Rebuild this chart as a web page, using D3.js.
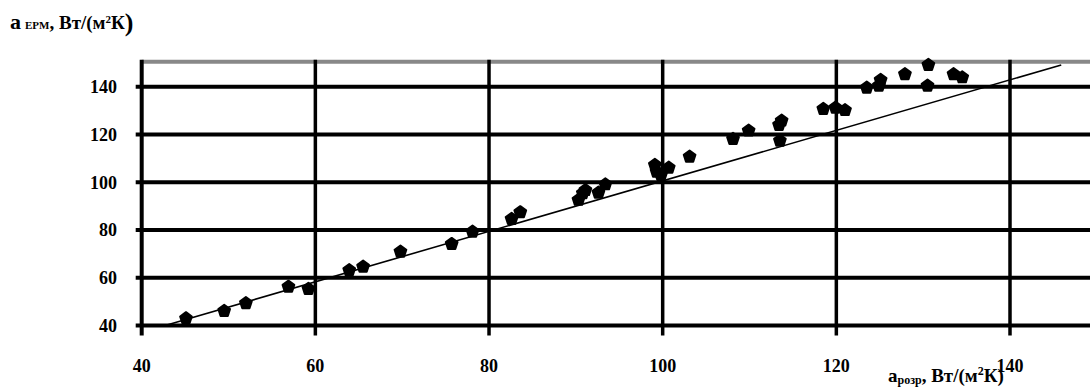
<!DOCTYPE html>
<html>
<head>
<meta charset="utf-8">
<script src="https://cdn.jsdelivr.net/npm/d3@7"></script>
<style>
  html, body { margin: 0; padding: 0; background: #fff; overflow: hidden; }
  svg { display: block; }
</style>
</head>
<body>
<svg id="chart" width="1090" height="387" font-family="'Liberation Serif', 'Times New Roman', serif" font-weight="bold"></svg>
<script>
// Measured vs. calculated heat transfer coefficient
const measuredX = [45.1, 49.5, 52.0, 56.9, 59.2, 63.9, 65.5, 69.8, 75.7, 78.1,
                   82.6, 83.6, 90.3, 90.8, 91.1, 92.6, 93.4, 99.1, 99.3, 99.8,
                   100.7, 103.1, 108.1, 109.9, 113.4, 113.7, 113.5, 118.5, 119.9, 121.0,
                   123.5, 124.9, 125.1, 127.9, 130.6, 130.5, 133.5, 134.5];
const measuredY = [43.0, 46.1, 49.3, 56.2, 55.3, 63.2, 64.6, 70.9, 74.1, 79.3,
                   84.6, 87.4, 92.6, 95.4, 96.7, 95.6, 99.1, 107.2, 104.4, 103.0,
                   106.1, 110.7, 118.1, 121.6, 124.0, 125.8, 117.4, 130.7, 131.2, 130.2,
                   139.6, 140.4, 142.8, 145.2, 149.1, 140.4, 145.2, 143.9];

// Fitted line endpoints
const fitX = [42.9, 145.9];
const fitY = [40.2, 149.1];

const xTicks = [40, 60, 80, 100, 120, 140];
const yTicks = [40, 60, 80, 100, 120, 140];
const xDomain = [40, 150];
const yDomain = [40, 150];

const svg = d3.select("#chart");

const x = d3.scaleLinear().domain(xDomain).range([141.7, 141.7 + 110 * 8.683]);
const y = d3.scaleLinear().domain(yDomain).range([325.5, 325.5 - 110 * 2.388]);

const plotTop = y(150);
const plotBottom = y(40);
const plotLeft = x(40);
const plotRight = x(150);

// Horizontal grid lines (with short ticks to the left of the axis)
svg.append("g")
  .selectAll("line")
  .data(yTicks)
  .join("line")
  .attr("x1", plotLeft - 6)
  .attr("x2", plotRight)
  .attr("y1", d => y(d))
  .attr("y2", d => y(d))
  .attr("stroke", "#000")
  .attr("stroke-width", 4);

// Top border
svg.append("line")
  .attr("x1", plotLeft)
  .attr("x2", plotRight)
  .attr("y1", plotTop - 1)
  .attr("y2", plotTop - 1)
  .attr("stroke", "#888")
  .attr("stroke-width", 4);

// Vertical grid lines (extending below the axis as ticks)
svg.append("g")
  .selectAll("line")
  .data(xTicks)
  .join("line")
  .attr("x1", d => x(d))
  .attr("x2", d => x(d))
  .attr("y1", plotTop - 3)
  .attr("y2", plotBottom + 10)
  .attr("stroke", "#000")
  .attr("stroke-width", d => d === 40 ? 4 : 3.5);

// Y tick labels
svg.append("g")
  .selectAll("text")
  .data(yTicks)
  .join("text")
  .attr("x", 117)
  .attr("y", d => y(d))
  .attr("dy", "0.35em")
  .attr("text-anchor", "end")
  .attr("font-size", 18)
  .text(d => d);

// X tick labels
svg.append("g")
  .selectAll("text")
  .data(xTicks)
  .join("text")
  .attr("x", d => x(d))
  .attr("y", 372)
  .attr("text-anchor", "middle")
  .attr("font-size", 18)
  .text(d => d);

// Fitted line
svg.append("path")
  .datum(d3.zip(fitX, fitY))
  .attr("d", d3.line().x(d => x(d[0])).y(d => y(d[1])))
  .attr("fill", "none")
  .attr("stroke", "#000")
  .attr("stroke-width", 1.6);

// Pentagon marker
const pentagon = {
  draw(context, size) {
    const r = Math.sqrt(size / 2.378);
    for (let i = 0; i < 5; i++) {
      const a = -Math.PI / 2 + i * 2 * Math.PI / 5;
      const px = r * Math.cos(a), py = r * Math.sin(a);
      if (i === 0) context.moveTo(px, py); else context.lineTo(px, py);
    }
    context.closePath();
  }
};

svg.append("g")
  .selectAll("path")
  .data(d3.zip(measuredX, measuredY))
  .join("path")
  .attr("transform", d => `translate(${x(d[0])},${y(d[1])})`)
  .attr("d", d3.symbol().type(pentagon).size(90))
  .attr("fill", "#000")
  .attr("stroke", "#000")
  .attr("stroke-width", 2)
  .attr("stroke-linejoin", "round");

// Y axis title
const yt = svg.append("text").attr("x", 10).attr("y", 29);
yt.append("tspan").attr("font-size", 22).text("a");
yt.append("tspan").attr("font-size", 11).attr("dx", 4).text("EPM");
yt.append("tspan").attr("font-size", 19).text(", Вт/(м");
yt.append("tspan").attr("font-size", 11).attr("dy", -6).text("2");
yt.append("tspan").attr("font-size", 19).attr("dy", 6).text("К");
yt.append("tspan").attr("font-size", 26).attr("dy", 2).text(")");

// X axis title
const xt = svg.append("text").attr("x", 888).attr("y", 382);
xt.append("tspan").attr("font-size", 19).text("a");
xt.append("tspan").attr("font-size", 12).attr("dy", 2).text("розр");
xt.append("tspan").attr("font-size", 19).attr("dy", -2).text(", Вт/(м");
xt.append("tspan").attr("font-size", 12).attr("dy", -7).text("2");
xt.append("tspan").attr("font-size", 19).attr("dy", 7).text("К)");
</script>
</body>
</html>
